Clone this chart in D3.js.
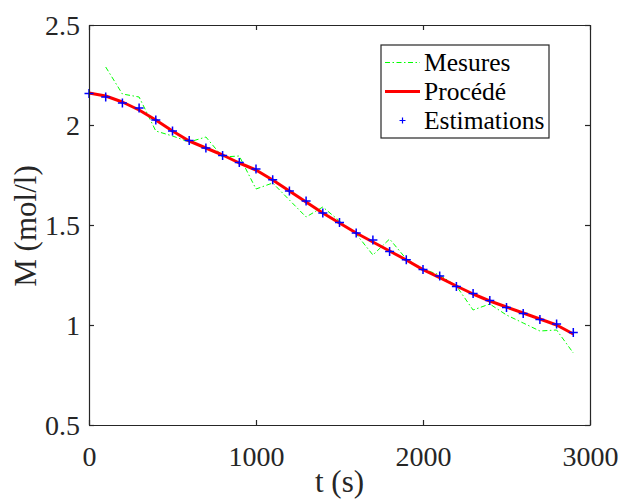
<script src="https://cdn.jsdelivr.net/npm/d3@7"></script>
<style>
  body { margin: 0; background: #fff; }
  text { font-family: "Liberation Serif", "Times New Roman", serif; fill: #262626; }
</style>
<div id="chart"></div>
<script>
// time samples (s)
var times = [0, 100, 200, 300, 400, 500, 600, 700, 800, 900, 1000, 1100, 1200, 1300, 1400,
             1500, 1600, 1700, 1800, 1900, 2000, 2100, 2200, 2300, 2400, 2500, 2600, 2700, 2800, 2900];

// Mesures (no value at t = 0)
var mesures = [null, 2.29, 2.155, 2.14, 1.97, 1.945, 1.915, 1.94, 1.84, 1.845, 1.68, 1.71, 1.625, 1.54, 1.59,
               1.52, 1.455, 1.35, 1.43, 1.33, 1.28, 1.25, 1.195, 1.075, 1.105, 1.05, 1.01, 0.97, 0.975, 0.86];

// Procédé
var procede = [2.16, 2.145, 2.115, 2.075, 2.025, 1.97, 1.92, 1.885, 1.85, 1.81, 1.775, 1.725, 1.67, 1.615, 1.56,
               1.51, 1.46, 1.415, 1.37, 1.325, 1.277, 1.237, 1.195, 1.155, 1.12, 1.09, 1.06, 1.03, 1.0, 0.955];

// Estimations
var estimations = [2.158, 2.14, 2.11, 2.085, 2.025, 1.97, 1.922, 1.885, 1.847, 1.812, 1.78, 1.726, 1.67, 1.62, 1.56,
                   1.512, 1.46, 1.425, 1.367, 1.326, 1.278, 1.245, 1.193, 1.158, 1.123, 1.088, 1.058, 1.028, 1.005, 0.962];

var xTicks = [0, 1000, 2000, 3000];
var yTicks = [0.5, 1, 1.5, 2, 2.5];
var legendNames = ["Mesures", "Procédé", "Estimations"];

var W = 622, H = 502;
var margin = {top: 25, right: 32, bottom: 77, left: 89};
var width = W - margin.left - margin.right,
    height = H - margin.top - margin.bottom;

var svg = d3.select("#chart").append("svg")
    .attr("width", W).attr("height", H);
var g = svg.append("g")
    .attr("transform", "translate(" + margin.left + "," + margin.top + ")");

var xScale = d3.scaleLinear().domain([0, 3000]).range([0, width]);
var yScale = d3.scaleLinear().domain([0.5, 2.5]).range([height, 0]);

var axisColor = "#262626";

// data lines
var lineM = d3.line()
    .defined(function(d, i) { return mesures[i] != null; })
    .x(function(d, i) { return xScale(times[i]); })
    .y(function(d, i) { return yScale(mesures[i]); });

var lineP = d3.line()
    .x(function(d, i) { return xScale(times[i]); })
    .y(function(d, i) { return yScale(procede[i]); });

g.append("path")
    .attr("d", lineM(times))
    .attr("fill", "none")
    .attr("stroke", "#00ff00")
    .attr("stroke-width", 1)
    .attr("stroke-dasharray", "5,2.5,1.5,2.5");

g.append("path")
    .attr("d", lineP(times))
    .attr("fill", "none")
    .attr("stroke", "#ff0000")
    .attr("stroke-width", 3)
    .attr("stroke-linejoin", "round");

// + markers
g.selectAll(".est")
    .data(times)
    .enter().append("path")
    .attr("class", "est")
    .attr("transform", function(d, i) { return "translate(" + xScale(d) + "," + yScale(estimations[i]) + ")"; })
    .attr("d", "M-4.5,0H4.5M0,-4.5V4.5")
    .attr("stroke", "#0000ff")
    .attr("stroke-width", 1.5)
    .attr("fill", "none");

// axes (ticks inside, box on)
var fmt = d3.format("");
var bottomAxis = g.append("g")
    .attr("transform", "translate(0," + height + ")")
    .call(d3.axisBottom(xScale).tickValues(xTicks).tickFormat(fmt).tickSizeInner(-5).tickSizeOuter(0).tickPadding(14));
var leftAxis = g.append("g")
    .call(d3.axisLeft(yScale).tickValues(yTicks).tickFormat(fmt).tickSizeInner(-5).tickSizeOuter(0).tickPadding(14));
var topAxis = g.append("g")
    .call(d3.axisTop(xScale).tickValues(xTicks).tickSizeInner(-5).tickSizeOuter(0).tickFormat(""));
var rightAxis = g.append("g")
    .attr("transform", "translate(" + width + ",0)")
    .call(d3.axisRight(yScale).tickValues(yTicks).tickSizeInner(-5).tickSizeOuter(0).tickFormat(""));

[bottomAxis, leftAxis, topAxis, rightAxis].forEach(function(a) {
    a.attr("font-family", null);
    a.select(".domain").attr("stroke", axisColor).attr("stroke-width", 1.2);
    a.selectAll(".tick line").attr("stroke", axisColor).attr("stroke-width", 1.2);
    a.selectAll(".tick text").attr("fill", axisColor).style("font-size", "28px")
        .style("font-family", "'Liberation Serif', serif");
});
bottomAxis.selectAll(".tick text").attr("dy", null).attr("y", 41);
leftAxis.selectAll(".tick text").attr("x", -9).attr("dy", "0.33em");

// axis titles
g.append("text")
    .attr("x", width / 2)
    .attr("y", height + 67)
    .attr("text-anchor", "middle")
    .style("font-size", "31px")
    .text("t (s)");

g.append("text")
    .attr("transform", "translate(" + (36 - margin.left) + "," + (226 - margin.top) + ") rotate(-90)")
    .attr("text-anchor", "middle")
    .style("font-size", "31px")
    .text("M (mol/l)");

// legend
var leg = svg.append("g").attr("transform", "translate(381,45)");
leg.append("rect")
    .attr("width", 168).attr("height", 93)
    .attr("fill", "#fff")
    .attr("stroke", axisColor)
    .attr("stroke-width", 1.2);

var rowY = [17.5, 46.5, 75.5];
leg.append("line")
    .attr("x1", 4).attr("x2", 39).attr("y1", rowY[0]).attr("y2", rowY[0])
    .attr("stroke", "#00ff00").attr("stroke-width", 1)
    .attr("stroke-dasharray", "5,2.5,1.5,2.5");
leg.append("line")
    .attr("x1", 4).attr("x2", 39).attr("y1", rowY[1]).attr("y2", rowY[1])
    .attr("stroke", "#ff0000").attr("stroke-width", 3);
leg.append("path")
    .attr("transform", "translate(21.5," + rowY[2] + ")")
    .attr("d", "M-3,0H3M0,-3V3")
    .attr("stroke", "#0000ff").attr("stroke-width", 1.2);

leg.selectAll(".ltxt")
    .data(legendNames)
    .enter().append("text")
    .attr("class", "ltxt")
    .attr("x", 43)
    .attr("y", function(d, i) { return rowY[i] + 8; })
    .style("font-size", "25.5px")
    .style("fill", "#000")
    .text(function(d) { return d; });
</script>
